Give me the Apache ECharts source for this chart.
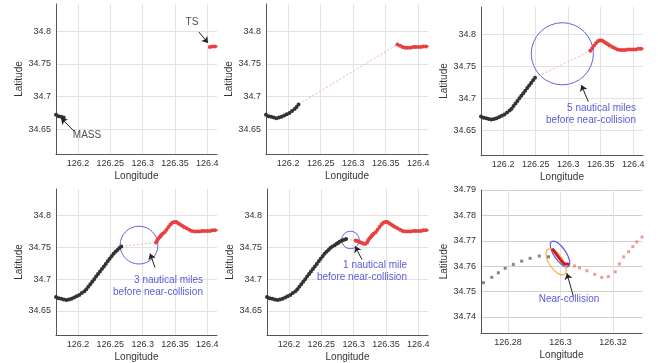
<!DOCTYPE html>
<html>
<head>
<meta charset="utf-8">
<script src="https://cdn.jsdelivr.net/npm/echarts@6/dist/echarts.min.js"></script>
<style>
  html, body { margin: 0; padding: 0; background: #fff; }
  #chart { width: 658px; height: 363px; }
</style>
</head>
<body>
<div id="chart"></div>
<script>
// MASS (own ship) track
const massLon = [126.166, 126.170, 126.174, 126.178, 126.182, 126.186, 126.190, 126.194, 126.198, 126.202,
  126.206, 126.210, 126.213, 126.216, 126.219, 126.222, 126.225, 126.228, 126.231, 126.234,
  126.237, 126.240, 126.243, 126.246, 126.249, 126.252, 126.255, 126.258, 126.261, 126.264,
  126.267, 126.2706, 126.2738, 126.2763, 126.2789, 126.282, 126.2852, 126.2884, 126.2919, 126.2954]
const massLat = [34.672, 34.670, 34.669, 34.668, 34.667, 34.668, 34.669, 34.671, 34.673, 34.675,
  34.678, 34.681, 34.684, 34.688, 34.692, 34.696, 34.700, 34.704, 34.708, 34.712,
  34.716, 34.720, 34.724, 34.728, 34.732, 34.736, 34.740, 34.743, 34.746, 34.749,
  34.7515, 34.7535, 34.7556, 34.7574, 34.7592, 34.7607, 34.762, 34.7631, 34.764, 34.7637]

// TS (target ship) track, coming in from the east
const tsLon = [126.416, 126.412, 126.408, 126.404, 126.400, 126.396, 126.392, 126.388, 126.384, 126.380,
  126.376, 126.372, 126.368, 126.364, 126.361, 126.358, 126.355, 126.352, 126.349, 126.346,
  126.343, 126.340, 126.337, 126.334, 126.331, 126.329, 126.3275, 126.3259, 126.324, 126.3224,
  126.3208, 126.3182, 126.3157, 126.313, 126.310, 126.3072, 126.3053, 126.3032, 126.3012, 126.2998,
  126.2988, 126.2978, 126.2968]
const tsLat = [34.777, 34.777, 34.777, 34.776, 34.776, 34.776, 34.776, 34.775, 34.775, 34.775,
  34.776, 34.778, 34.780, 34.782, 34.784, 34.786, 34.788, 34.790, 34.790, 34.789,
  34.786, 34.782, 34.778, 34.774, 34.7715, 34.7696, 34.7677, 34.7657, 34.7637, 34.7609,
  34.7578, 34.7559, 34.7556, 34.7568, 34.7582, 34.7594, 34.7601, 34.7608, 34.7610, 34.7628,
  34.7642, 34.7656, 34.7669]

// fixes shown in each snapshot
const massShown = [4, 14, 25, 31, 38, 40]
const tsShown = [4, 13, 24, 31, 38, 43]
const nearStart = 38   // dense part of the TS track at the near-collision

// range circles (panel, centre, radius in degrees)
const circlePanel = [2, 3, 4]
const circleLon = [126.291, 126.2944, 126.2951]
const circleLat = [34.7693, 34.7536, 34.7617]
const circleR = [0.048, 0.0295, 0.0137]

// ship domains at the near-collision
const domainLon = [126.2998, 126.2983]
const domainLat = [34.7648, 34.7617]

// annotations
const notePanel = [0, 0, 2, 3, 4, 5]
const noteText = ['TS', 'MASS', '5 nautical miles\nbefore near-collision', '3 nautical miles\nbefore near-collision',
  '1 nautical mile\nbefore near-collision', 'Near-collision']
const noteLon = [126.3763, 126.2139, 126.4042, 126.3933, 126.3825, 126.3032]
const noteLat = [34.8144, 34.641, 34.6757, 34.6886, 34.7123, 34.7471]
const arrowFrom = [[126.3871, 34.799], [126.1938, 34.6472], [126.3309, 34.6948], [126.3191, 34.7184], [126.3128, 34.7309], [126.3049, 34.748]]
const arrowTo = [[126.4011, 34.7822], [126.1737, 34.6671], [126.3203, 34.7208], [126.3114, 34.7403], [126.3024, 34.7517], [126.3024, 34.7572]]

const lonRanges = [[126.166, 126.415], [126.166, 126.415], [126.166, 126.415], [126.166, 126.415], [126.166, 126.415], [126.2697, 126.331]]
const latRanges = [[34.612, 34.842], [34.612, 34.842], [34.612, 34.842], [34.612, 34.842], [34.612, 34.842], [34.7337, 34.79]]

const font = '"Liberation Sans", Arial, sans-serif'
const boxes = [
    {left: 56, top: 4, width: 161, height: 150},
    {left: 266, top: 4, width: 162, height: 150},
    {left: 481, top: 7, width: 162, height: 148},
    {left: 56, top: 189, width: 161, height: 147},
    {left: 267, top: 189, width: 161, height: 146},
    {left: 481, top: 190, width: 161, height: 143}
]

function track(lon, lat, n, from) {
    const out = []
    for (let i = from || 0; i < n; i++) out.push([lon[i], lat[i]])
    return out
}

const grid = boxes.map(b => Object.assign({containLabel: false}, b))
const xAxis = boxes.map((b, i) => ({
    type: 'value', gridIndex: i,
    min: lonRanges[i][0], max: lonRanges[i][1], splitNumber: i === 5 ? 3 : 5,
    name: 'Longitude', nameLocation: 'middle', nameGap: 17,
    nameTextStyle: {fontFamily: font, fontSize: 10, color: '#333'},
    axisLine: {onZero: false, lineStyle: {color: '#555'}},
    axisTick: {show: false},
    axisLabel: {fontFamily: font, fontSize: 9, color: '#333', margin: 5, showMinLabel: false, showMaxLabel: false},
    splitLine: {show: true, showMinLine: false, showMaxLine: false, lineStyle: {color: '#e2e2e2'}}
}))
const yAxis = boxes.map((b, i) => ({
    type: 'value', gridIndex: i,
    min: latRanges[i][0], max: latRanges[i][1], splitNumber: 5,
    name: 'Latitude', nameLocation: 'middle', nameGap: 31,
    nameTextStyle: {fontFamily: font, fontSize: 10, color: '#333'},
    axisLine: {show: true, onZero: false, lineStyle: {color: '#555'}},
    axisTick: {show: false},
    axisLabel: {fontFamily: font, fontSize: 9, color: '#333', margin: 5, showMinLabel: false, showMaxLabel: i === 5},
    splitLine: {show: true, showMinLine: false, showMaxLine: i === 5, lineStyle: {color: i === 5 ? '#cfcfcf' : '#e2e2e2'}}
}))

const series = []
for (let i = 0; i < 5; i++) {
    const mass = track(massLon, massLat, massShown[i])
    const ts = track(tsLon, tsLat, tsShown[i])
    if (i > 0) {
        series.push({
            type: 'line', xAxisIndex: i, yAxisIndex: i, silent: true, symbol: 'none',
            lineStyle: {color: '#f2b0ac', width: 1, type: [2, 2]},
            data: [mass[mass.length - 1], ts[ts.length - 1]]
        })
    }
    series.push({
        type: 'line', xAxisIndex: i, yAxisIndex: i, silent: true,
        symbol: 'emptyCircle', symbolSize: 2,
        lineStyle: {color: '#333', width: 1.3}, itemStyle: {color: '#333'},
        data: mass
    })
    series.push({
        type: 'line', xAxisIndex: i, yAxisIndex: i, silent: true,
        symbol: 'emptyCircle', symbolSize: 2,
        lineStyle: {color: '#e84040', width: 1.3}, itemStyle: {color: '#e84040'},
        data: ts
    })
}

// panel 6: the near-collision close up
series.push({
    type: 'scatter', xAxisIndex: 5, yAxisIndex: 5, silent: true, symbol: 'rect', symbolSize: 3,
    itemStyle: {color: '#666'}, data: track(massLon, massLat, massShown[5])
})
series.push({
    type: 'scatter', xAxisIndex: 5, yAxisIndex: 5, silent: true, symbol: 'rect', symbolSize: 3,
    itemStyle: {color: '#ec8080'}, data: track(tsLon, tsLat, nearStart - 1)
})
series.push({
    type: 'line', xAxisIndex: 5, yAxisIndex: 5, silent: true, symbol: 'none',
    lineStyle: {color: '#d01818', width: 3}, data: track(tsLon, tsLat, tsShown[5], nearStart - 1)
})
series.push({
    type: 'custom', xAxisIndex: 5, yAxisIndex: 5, silent: true,
    data: domainLon.map((x, k) => [x, domainLat[k], k]),
    renderItem: (params, api) => {
        const c = api.coord([api.value(0), api.value(1)])
        const k = api.value(2)
        return {
            type: 'ellipse', x: c[0], y: c[1], rotation: -0.98,
            shape: {cx: 0, cy: 0, rx: 15, ry: k === 0 ? 6 : 7},
            style: {fill: 'none', stroke: k === 0 ? '#5a5ae0' : '#f5b041', lineWidth: 1.2}
        }
    }
})

// range circles
circlePanel.forEach((p, k) => {
    series.push({
        type: 'custom', xAxisIndex: p, yAxisIndex: p, silent: true,
        data: [[circleLon[k], circleLat[k], circleR[k]]],
        renderItem: (params, api) => {
            const c = api.coord([api.value(0), api.value(1)])
            const s = api.size([api.value(2), api.value(2)])
            return {
                type: 'circle', shape: {cx: c[0], cy: c[1], r: (s[0] + s[1]) / 2},
                style: {fill: 'none', stroke: '#6464d8', lineWidth: 1}
            }
        }
    })
})

// text notes and arrows
notePanel.forEach((p, k) => {
    const blue = p > 1
    const multi = noteText[k].indexOf('\n') > 0
    series.push({
        type: 'scatter', xAxisIndex: p, yAxisIndex: p, silent: true, symbolSize: 1,
        itemStyle: {color: 'transparent'},
        label: {
            show: true, position: 'inside', formatter: noteText[k],
            align: multi ? 'right' : 'center', verticalAlign: 'middle', lineHeight: 12,
            fontFamily: font, fontSize: 10, color: blue ? '#3030d0' : '#222'
        },
        data: [[noteLon[k], noteLat[k]]],
        markLine: {
            silent: true, animation: false, symbol: ['none', 'arrow'], symbolSize: 6,
            label: {show: false},
            lineStyle: {color: '#222', width: 1, type: 'solid'},
            data: [[{coord: arrowFrom[k]}, {coord: arrowTo[k]}]]
        }
    })
})

const chart = echarts.init(document.getElementById('chart'))
chart.setOption({
    animation: false,
    backgroundColor: '#fff',
    grid: grid,
    xAxis: xAxis,
    yAxis: yAxis,
    series: series
})
</script>
</body>
</html>
